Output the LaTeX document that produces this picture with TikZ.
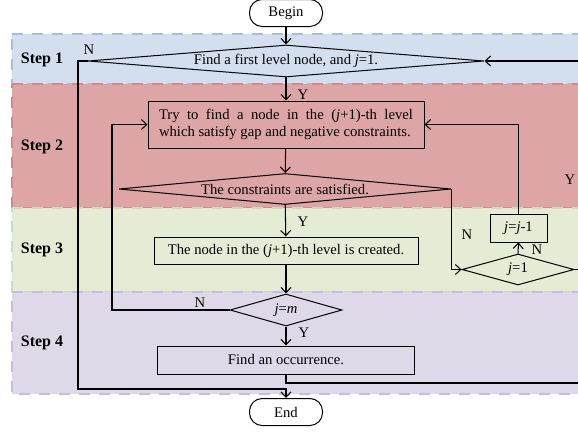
\documentclass[tikz,border=0pt]{standalone}
\usepackage{fontspec}
\setmainfont{Liberation Serif}
\usetikzlibrary{shapes.geometric,arrows.meta}

\definecolor{stepblue}{RGB}{211,222,239}
\definecolor{stepblueline}{RGB}{168,188,222}
\definecolor{stepred}{RGB}{221,165,165}
\definecolor{stepredline}{RGB}{210,136,140}
\definecolor{stepgreen}{RGB}{229,236,214}
\definecolor{stepgreenline}{RGB}{208,220,182}
\definecolor{steppurple}{RGB}{223,216,232}
\definecolor{steppurpleline}{RGB}{200,188,216}

\tikzset{
  band/.style={line width=1.4pt, dash pattern=on 8pt off 7pt},
  steplabel/.style={font=\fontsize{12}{14}\selectfont\bfseries},
  txt/.style={font=\fontsize{11}{12.75}\selectfont},
  procbox/.style={txt, draw, rectangle, line width=0.75pt, inner sep=0pt},
  testbox/.style={txt, draw, diamond, line width=0.75pt, inner sep=0pt},
  termbox/.style={txt, draw, rectangle, rounded corners=9.5pt, line width=0.75pt, inner sep=0pt,
    minimum width=54.75pt, minimum height=20.25pt},
  yn/.style={txt, inner sep=0pt},
  flow/.style={line width=0.8pt, -{Straight Barb[length=4pt,width=7.5pt]}},
  link/.style={line width=0.8pt}
}

\begin{document}
\begin{tikzpicture}[x=0.75pt,y=0.75pt,yscale=-1,xscale=1]
\useasboundingbox (0,0) rectangle (578,432);
\clip (0,0) rectangle (578,432);
%Shape: Rectangle [step bands]
\draw [band, fill=stepblue, draw=stepblueline] (12,34) -- (600,34) -- (600,84) -- (12,84) -- cycle ;
\draw [band, fill=stepred, draw=stepredline] (12,84) -- (600,84) -- (600,208) -- (12,208) -- cycle ;
\draw [band, fill=stepgreen, draw=stepgreenline] (12,208) -- (600,208) -- (600,292) -- (12,292) -- cycle ;
\draw [band, fill=steppurple, draw=steppurpleline] (12,292) -- (600,292) -- (600,394) -- (12,394) -- cycle ;
%step names
\node [steplabel] (st1) at (42,60) {Step 1};
\node [steplabel] (st2) at (42,147) {Step 2};
\node [steplabel] (st3) at (42,250) {Step 3};
\node [steplabel] (st4) at (42,343) {Step 4};
%Shape: Terminals
\node [termbox] (beg) at (286,13) {Begin};
\node [termbox] (fin) at (286,412) {End};
%Shape: Diamonds
\node [testbox, aspect=12.375, minimum width=297pt, minimum height=24pt] (first) at (286,61) {Find a first level node, and \textit{j}=1.};
\node [testbox, aspect=10.71, minimum width=249pt, minimum height=23.25pt] (cons) at (285,189) {The constraints are satisfied.};
\node [testbox, aspect=3.5, minimum width=84pt, minimum height=24pt] (jm) at (286,310) {\textit{j}=\textit{m}};
\node [testbox, aspect=3.61, minimum width=84pt, minimum height=23.25pt] (jone) at (518,269.5) {\textit{j}=1};
%Shape: Rectangles
\node [procbox, minimum width=207pt, minimum height=35.25pt, text width=190.5pt, align=justify] (try) at (286,124.5)
  {Try to find a node in the (\textit{j}+1)-th level\linebreak which satisfy gap and negative constraints.};
\node [procbox, minimum width=198pt, minimum height=20.25pt] (made) at (286,250.5) {The node in the (\textit{j}+1)-th level is created.};
\node [procbox, minimum width=192.75pt, minimum height=21pt] (occ) at (286,360) {Find an occurrence.};
\node [procbox, minimum width=42.75pt, minimum height=21pt] (back) at (518.5,228) {\textit{j}=\textit{j}-1};
%corner points
\coordinate (lft) at (78,389);
\coordinate (mid) at (112,310);
\coordinate (rgt) at (590,383);
%Arrows
\draw [flow] (beg) -- (first);
\draw [flow] (first) -- (try);
\draw [flow] (try) -- (cons);
\draw [flow] (cons) -- (made);
\draw [flow] (made) -- (jm);
\draw [flow] (jm) -- (occ);
\draw [flow] (first.west) -- (first.west -| lft) -- (lft) -| (fin.north);
\draw [flow] (jm.west) -- (mid) |- (try.west);
\draw [flow] (cons.east) |- (jone.west);
\draw [flow] (jone.north) -- (back.south);
\draw [flow] (back.north) |- (try.east);
\draw [flow] (occ.south) |- (rgt) |- (first.east);
\draw [link] (jone.east) -- (jone.east -| rgt);
%Y and N
\node [yn] (n1) at (89,50) {N};
\node [yn] (y1) at (303,95) {Y};
\node [yn] (y2) at (303,222) {Y};
\node [yn] (n2) at (200,303) {N};
\node [yn] (y3) at (304,333) {Y};
\node [yn] (n3) at (467,235) {N};
\node [yn] (n4) at (537,250) {N};
\node [yn] (y4) at (570,180) {Y};
\end{tikzpicture}
\end{document}
